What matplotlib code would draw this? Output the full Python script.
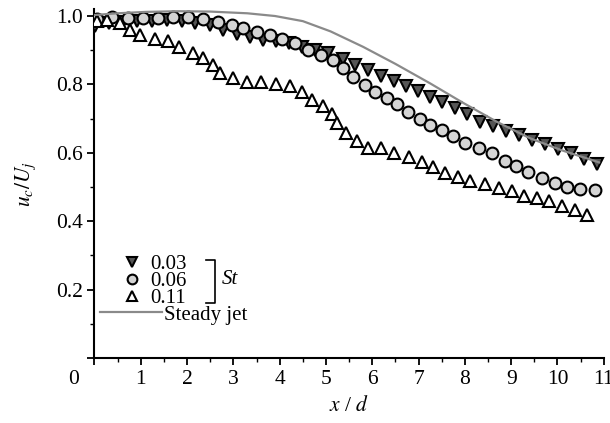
import numpy as np
import matplotlib
matplotlib.use("Agg")
import matplotlib.pyplot as plt
from matplotlib.lines import Line2D

plt.rcParams['font.family'] = ['Liberation Serif', 'DejaVu Serif']
plt.rcParams['mathtext.fontset'] = 'stix'

# St = 0.03 (filled dark inverted triangles)
x_003 = [0.02, 0.31, 0.62, 0.92, 1.24, 1.56, 1.88, 2.17, 2.49, 2.78, 3.07, 3.35, 3.63,
         3.92, 4.20, 4.49, 4.77, 5.05, 5.36, 5.63, 5.91, 6.18, 6.47, 6.72, 6.99, 7.25,
         7.50, 7.79, 8.05, 8.33, 8.61, 8.89, 9.17, 9.44, 9.73, 10.01, 10.29, 10.58, 10.85]
u_003 = [0.971, 0.980, 0.982, 0.984, 0.986, 0.988, 0.986, 0.980, 0.975, 0.958, 0.947,
         0.939, 0.931, 0.927, 0.921, 0.909, 0.901, 0.892, 0.873, 0.858, 0.841, 0.826,
         0.811, 0.794, 0.782, 0.764, 0.749, 0.730, 0.714, 0.691, 0.678, 0.663, 0.652,
         0.637, 0.626, 0.612, 0.599, 0.582, 0.566]

# St = 0.06 (light grey circles)
x_006 = [0.05, 0.37, 0.73, 1.05, 1.38, 1.70, 2.03, 2.35, 2.67, 2.96, 3.21, 3.50, 3.79,
         4.06, 4.33, 4.62, 4.89, 5.16, 5.37, 5.59, 5.84, 6.06, 6.31, 6.53, 6.78, 7.02,
         7.25, 7.51, 7.75, 8.01, 8.31, 8.58, 8.87, 9.10, 9.37, 9.66, 9.95, 10.20, 10.49,
         10.81]
u_006 = [0.991, 0.997, 0.993, 0.995, 0.995, 0.996, 0.996, 0.990, 0.982, 0.975, 0.964,
         0.954, 0.944, 0.932, 0.920, 0.901, 0.886, 0.870, 0.848, 0.823, 0.798, 0.779,
         0.759, 0.743, 0.720, 0.698, 0.681, 0.667, 0.649, 0.630, 0.613, 0.599, 0.577,
         0.561, 0.545, 0.525, 0.513, 0.501, 0.493, 0.491]

# St = 0.11 (open triangles)
x_011 = [0.05, 0.26, 0.55, 0.77, 0.98, 1.31, 1.59, 1.83, 2.12, 2.35, 2.55, 2.71, 3.00,
         3.29, 3.60, 3.91, 4.22, 4.48, 4.69, 4.94, 5.12, 5.23, 5.43, 5.66, 5.90, 6.19,
         6.47, 6.79, 7.07, 7.32, 7.57, 7.85, 8.11, 8.43, 8.73, 9.01, 9.28, 9.56, 9.82,
         10.09, 10.38, 10.64]
u_011 = [0.984, 0.988, 0.979, 0.959, 0.944, 0.932, 0.927, 0.910, 0.893, 0.878, 0.857,
         0.832, 0.820, 0.808, 0.806, 0.800, 0.795, 0.777, 0.754, 0.738, 0.713, 0.686,
         0.659, 0.635, 0.615, 0.613, 0.599, 0.589, 0.574, 0.559, 0.542, 0.528, 0.519,
         0.510, 0.497, 0.488, 0.475, 0.467, 0.459, 0.444, 0.433, 0.418]

# steady jet
x_st = [0.0, 0.5, 1.1, 1.8, 2.5, 3.3, 3.9, 4.5, 5.1, 5.8, 6.5, 7.25, 7.95, 8.7, 9.4,
        10.1, 10.9]
u_st = [1.003, 1.008, 1.012, 1.014, 1.013, 1.008, 1.000, 0.985, 0.955, 0.910, 0.860,
        0.803, 0.747, 0.690, 0.643, 0.607, 0.572]

x_ticks = list(range(0, 12))
y_ticks = [0.0, 0.2, 0.4, 0.6, 0.8, 1.0]

fig = plt.figure(figsize=(6.1, 4.23), dpi=100)
ax = fig.add_axes([0.1549, 0.1537, 0.8349, 0.8246])

ms = 8.5
mew = 1.5
ax.plot(x_003, u_003, 'v', ms=ms, mfc='#555555', mec='black', mew=mew, zorder=3)
ax.plot(x_006, u_006, 'o', ms=ms, mfc='#d4d4d4', mec='black', mew=mew, zorder=4)
ax.plot(x_011, u_011, '^', ms=ms, mfc='white', mec='black', mew=mew, zorder=5)
ax.plot(x_st, u_st, '-', color='#8a8a8a', lw=1.6, zorder=6)

ax.set_xlim(0, 11)
ax.set_ylim(0, 1.02)
ax.set_xticks(x_ticks)
ax.set_xticklabels([''] + [str(v) for v in x_ticks[1:]])
ax.set_yticks(y_ticks)
ax.set_yticklabels([''] + ['%.1f' % v for v in y_ticks[1:]])
ax.set_xticks(np.arange(0.5, 11, 1.0), minor=True)
ax.set_yticks(np.arange(0.1, 1.0, 0.2), minor=True)
ax.tick_params(which='major', direction='out', length=5, width=1.3, labelsize=15.5)
ax.tick_params(which='minor', direction='out', length=3, width=1.0)
for s in ['top', 'right']:
    ax.spines[s].set_visible(False)
for s in ['left', 'bottom']:
    ax.spines[s].set_linewidth(1.5)

ax.annotate('0', xy=(-0.46, 0), xycoords=('data', 'axes fraction'),
            xytext=(0, -8.5), textcoords='offset points',
            ha='center', va='top', fontsize=15.5)

ax.set_xlabel(r'$x$ / $d$', fontsize=15.5, labelpad=5)
ax.set_ylabel(r'$u_c/U_j$', fontsize=15.5, labelpad=13)

# legend for St markers
h_pts = [Line2D([], [], ls='none', marker='v', ms=7, mfc='#555555', mec='black', mew=1.5),
         Line2D([], [], ls='none', marker='o', ms=7, mfc='#d4d4d4', mec='black', mew=1.5),
         Line2D([], [], ls='none', marker='^', ms=7, mfc='white', mec='black', mew=1.5)]
leg1 = ax.legend(h_pts, ['0.03', '0.06', '0.11'], loc='upper left',
                 bbox_to_anchor=(0.056, 0.296), frameon=False, fontsize=15,
                 handlelength=0.9, handletextpad=0.4, labelspacing=-0.12,
                 borderpad=0, borderaxespad=0)
ax.add_artist(leg1)

h_line = [Line2D([], [], color='#8a8a8a', lw=1.6)]
ax.legend(h_line, ['Steady jet'], loc='center left', bbox_to_anchor=(0.011, 0.124),
          frameon=False, fontsize=15, handlelength=2.95, handletextpad=0.1,
          borderpad=0, borderaxespad=0)

# bracket grouping St
ax.plot([0.219, 0.237, 0.237, 0.219], [0.281, 0.281, 0.158, 0.158],
        transform=ax.transAxes, color='black', lw=1.2, clip_on=False)
ax.text(0.250, 0.224, 'St', transform=ax.transAxes, fontsize=15,
        style='italic', ha='left', va='center')

fig.savefig('out.png', dpi=100)
